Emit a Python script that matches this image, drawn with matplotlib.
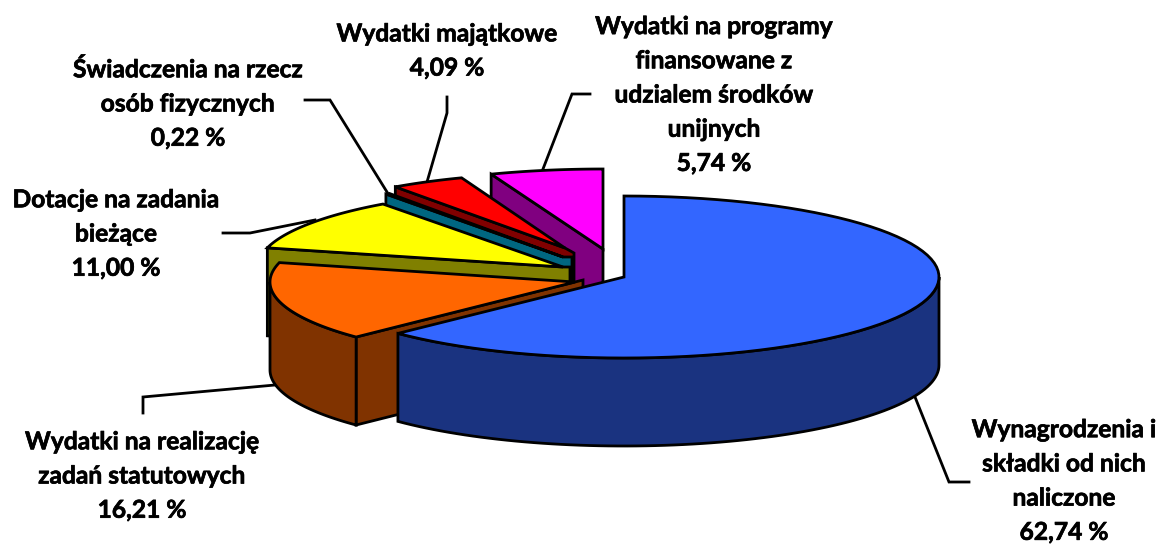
import numpy as np
import matplotlib
matplotlib.use("Agg")
import matplotlib.pyplot as plt
import matplotlib.patheffects as pe
from matplotlib.patches import Polygon

# ---- data (clockwise from 12 o'clock) ----
categories = ["Wynagrodzenia i\nskładki od nich\nnaliczone",
              "Wydatki na realizację\nzadań statutowych",
              "Dotacje na zadania\nbieżące",
              "Świadczenia na rzecz\nosób fizycznych",
              "Wydatki majątkowe",
              "Wydatki na programy\nfinansowane z\nudzialem środków\nunijnych"]
values = [62.74, 16.21, 11.00, 0.22, 4.09, 5.74]
top_colors = ["#3366FF", "#FF6600", "#FFFF00", "#006680", "#FF0000", "#FF00FF"]
side_colors = ["#1A3380", "#803300", "#808000", "#006680", "#800000", "#800080"]

# ---- layout in pixels ----
W, H = 1159, 544
DEPTH = 88
centers = [(624, 277), (575, 282), (563, 267), (563, 257), (565, 248), (603, 249)]
radii = [(315, 81), (305, 79), (305, 78), (300, 78), (293, 75), (317, 80)]
inner_x = [624, 583, 570, 572, 574, 603]     # right end of the radial wall
inner_dy = [0, -2, 0, 0, 5, 0]
label_pos = [(1064, 481), (142, 476), (116, 234), (188, 104), (447, 51), (714, 95)]
leaders = [[(915, 397), (949, 482), (969, 482)],
           [(143, 413), (143, 397), (275, 385)],
           [(223, 233), (250, 233), (315, 220)],
           [(305, 100), (330, 100), (387, 192)],
           [(447, 97), (447, 113), (427, 182)],
           [(590, 94), (572, 94), (543, 169)]]

LW = 2.0
FS = 17.7
LINESP = 1.59
plt.rcParams['font.family'] = ['Lato', 'DejaVu Sans']

fig = plt.figure(figsize=(W / 100, H / 100), dpi=100, facecolor="white")
ax = fig.add_axes([0, 0, 1, 1])
ax.set_xlim(0, W)
ax.set_ylim(H, 0)
ax.axis("off")


def arc(i, t0, t1, n=80):
    cx, cy = centers[i]
    a, b = radii[i]
    t = np.radians(np.linspace(t0, t1, n))
    return np.column_stack([cx + a * np.sin(t), cy - b * np.cos(t)])


def poly(pts, color, z):
    ax.add_patch(Polygon(pts, closed=True, facecolor=color, edgecolor="black",
                         linewidth=LW, joinstyle="miter", zorder=z))


edges = np.concatenate([[0], np.cumsum(values)]) / sum(values) * 360

for seg in leaders:
    xs, ys = zip(*seg)
    ax.plot(xs, ys, color="black", lw=LW, zorder=1, solid_joinstyle="miter")

# paint back to front: magenta, red, teal, yellow, orange, blue
z = 2
for i in [5, 4, 3, 2, 1, 0]:
    t0, t1 = edges[i], edges[i + 1]
    c = np.array(centers[i], float)
    top = arc(i, t0, t1)
    # radial wall on the clockwise-start side (blue's is hidden behind its top)
    if i != 0:
        outer = top[0]
        corner = np.array([inner_x[i], c[1] + inner_dy[i]])
        wall = [outer, c, corner, corner + [0, DEPTH], outer + [0, DEPTH]]
        poly(wall, side_colors[i], z)
        z += 1
    # outer cylinder wall where the rim faces the viewer
    lo, hi = max(t0, 90), min(t1, 270)
    if lo < hi:
        rim = arc(i, lo, hi)
        poly(np.vstack([rim, (rim + [0, DEPTH])[::-1]]), side_colors[i], z)
        z += 1
    poly(np.vstack([c[None, :], top]), top_colors[i], z)
    z += 1

for name, val, pos in zip(categories, values, label_pos):
    txt = f"{name}\n{val:.2f} %".replace(".", ",")
    ax.text(pos[0], pos[1], txt, ha="center", va="center", fontsize=FS,
            fontweight="bold", color="black", linespacing=LINESP, zorder=50,
            path_effects=[pe.withStroke(linewidth=0.5, foreground="black")])

fig.savefig("out.png", dpi=100)
